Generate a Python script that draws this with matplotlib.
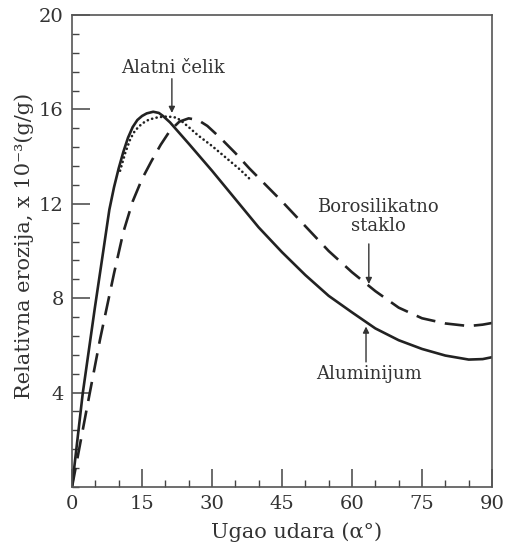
import matplotlib
matplotlib.use("Agg")
import matplotlib.pyplot as plt
from matplotlib.ticker import MultipleLocator

plt.rcParams['font.family'] = 'DejaVu Serif'
plt.rcParams['lines.scale_dashes'] = False

# Aluminijum (solid)
al_x = [0, 2.3, 4.9, 6.7, 8, 9, 10, 11, 12, 13, 14, 15, 16, 17.4, 18.6, 19.5, 21, 25, 30, 35, 40, 45, 50, 55, 60, 65, 70, 75, 80, 85, 88, 90]
al_y = [0, 3.97, 7.6, 10.0, 11.75, 12.7, 13.5, 14.2, 14.8, 15.25, 15.55, 15.72, 15.83, 15.9, 15.85, 15.72, 15.45, 14.55, 13.4, 12.2, 11.0, 9.95, 8.98, 8.1, 7.4, 6.72, 6.22, 5.85, 5.57, 5.4, 5.42, 5.5]

# Borosilikatno staklo (dashed)
bs_x = [0, 3, 6, 9, 11, 13, 15, 17, 19, 21, 23, 25, 27, 29, 32, 35, 38, 41, 45, 50, 55, 60, 65, 70, 75, 80, 85, 88, 90]
bs_y = [0, 3.15, 6.25, 9.05, 10.8, 12.1, 13.05, 13.8, 14.5, 15.1, 15.48, 15.62, 15.55, 15.3, 14.75, 14.15, 13.5, 12.9, 12.1, 11.05, 10.0, 9.1, 8.3, 7.6, 7.15, 6.93, 6.82, 6.88, 6.95]

# Alatni celik (dotted)
ac_x = [10.3, 11.4, 12.5, 13.5, 15, 16.5, 18.5, 20.5, 22.4, 23.5, 25, 27, 30, 33, 36, 38.1]
ac_y = [13.4, 14.15, 14.75, 15.1, 15.4, 15.57, 15.67, 15.7, 15.65, 15.5, 15.25, 14.9, 14.45, 13.95, 13.45, 13.05]

x_ticks = [0, 15, 30, 45, 60, 75, 90]
y_ticks = [4, 8, 12, 16, 20]

fig = plt.figure(figsize=(5.05, 5.43), dpi=100)
ax = fig.add_axes([0.1426, 0.1031, 0.8317, 0.8693])

ax.plot(al_x, al_y, color="#222222", lw=1.9, solid_capstyle="round", solid_joinstyle="round")
ax.plot(bs_x, bs_y, color="#222222", lw=1.9, dashes=(14, 7))
ax.plot(ac_x, ac_y, color="#222222", lw=1.9, dashes=(0.1, 3.2), dash_capstyle="round")

ax.set_xlim(0, 90)
ax.set_ylim(0, 20)
ax.set_xticks(x_ticks)
ax.set_yticks(y_ticks)
ax.xaxis.set_minor_locator(MultipleLocator(5))
ax.yaxis.set_minor_locator(MultipleLocator(0.8))
ax.tick_params(which="major", direction="in", length=13, width=1.1, color="#444444", labelsize=14, labelcolor="#333333", pad=6)
ax.tick_params(which="minor", direction="in", length=5, width=1.0, color="#444444")
for s in ax.spines.values():
  s.set_color("#555555")
  s.set_linewidth(1.2)

ax.set_xlabel("Ugao udara (α°)", fontsize=15, color="#333333")
ax.xaxis.set_label_coords(0.535, -0.075)
ax.set_ylabel("Relativna erozija, x 10⁻³(g/g)", fontsize=15, color="#333333")
ax.yaxis.set_label_coords(-0.09, 0.51)

arrow = dict(arrowstyle="-|>", color="#333333", lw=1.0, mutation_scale=9, shrinkA=0, shrinkB=0)
ax.text(21.7, 17.75, "Alatni čelik", ha="center", va="center", fontsize=13, color="#333333")
ax.annotate("", xy=(21.4, 15.85), xytext=(21.4, 17.3), arrowprops=arrow)
ax.text(65.6, 11.45, "Borosilikatno\nstaklo", ha="center", va="center", fontsize=13, color="#333333", linespacing=1.1)
ax.annotate("", xy=(63.6, 8.6), xytext=(63.6, 10.3), arrowprops=arrow)
ax.text(63.7, 4.8, "Aluminijum", ha="center", va="center", fontsize=13, color="#333333")
ax.annotate("", xy=(63.0, 6.8), xytext=(63.0, 5.3), arrowprops=arrow)

plt.savefig("out.png", dpi=100)
